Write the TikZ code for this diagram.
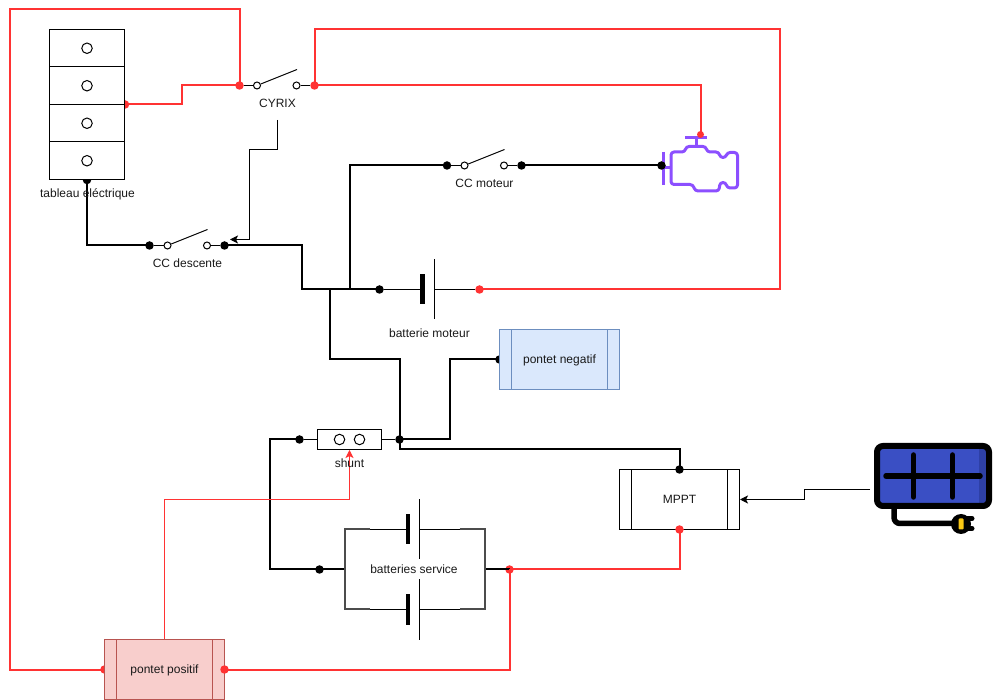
\documentclass[tikz,border=0pt]{standalone}
\usepackage{fontspec}
\setmainfont{Liberation Sans}
\usetikzlibrary{arrows.meta}
\definecolor{wirered}{HTML}{FF3333}
\definecolor{enginepurple}{HTML}{8C4FFF}
\definecolor{panelblue}{HTML}{3A4FC4}
\definecolor{paneldark}{HTML}{2E40A6}
\definecolor{negfill}{HTML}{DAE8FC}
\definecolor{negline}{HTML}{6C8EBF}
\definecolor{posfill}{HTML}{F8CECC}
\definecolor{posline}{HTML}{B85450}
\tikzset{
	redwire/.style={draw=wirered,line width=2pt},
	blackwire/.style={draw=black,line width=2pt},
	thinwire/.style={draw=black,line width=1pt},
	thinarrow/.style={-{Stealth[length=8pt,width=8pt,inset=2pt]}},
	reddot/.style={circle,fill=wirered,inner sep=0pt,minimum size=8.5pt},
	blackdot/.style={circle,fill=black,inner sep=0pt,minimum size=8.5pt},
	opendot/.style={circle,draw=black,fill=white,line width=1pt,inner sep=0pt,minimum size=7pt},
	ring/.style={circle,draw=black,fill=white,line width=1pt,inner sep=0pt,minimum size=10.5pt},
	label/.style={font=\fontsize{12}{14}\selectfont,text=black!90,inner sep=0pt,text height=10pt,text depth=2pt},
	pontet/.style={draw=#1,line width=1pt,minimum width=120pt,minimum height=60pt,inner sep=0pt,
		font=\fontsize{12}{14}\selectfont,text=black!90,text height=10pt,text depth=2pt,
		path picture={
			\draw[#1,line width=1pt] ([xshift=12pt]path picture bounding box.north west) -- ([xshift=12pt]path picture bounding box.south west);
			\draw[#1,line width=1pt] ([xshift=-12pt]path picture bounding box.north east) -- ([xshift=-12pt]path picture bounding box.south east);
		}},
	cell/.style={draw=black,fill=white,line width=1pt,minimum width=75pt,minimum height=37.5pt,inner sep=0pt},
	plateone/.style={line width=4.5pt},
	platetwo/.style={draw=black,line width=1pt},
	bracket/.style={draw=black!70,line width=2pt},
	enginepen/.style={draw=enginepurple,line width=3pt},
}
\begin{document}
\begin{tikzpicture}[x=1pt,y=-1pt]
	\useasboundingbox (0,0) rectangle (997,700);

	% engine
	\draw[enginepen,rounded corners=3pt,line join=round] (671,152) -- (685,152) -- (686,146.5) -- (706,146.5) -- (707,152) -- (719,152) -- (720,157.5) -- (726,157.5) -- (727,152.5) -- (737.5,152.5) -- (737.5,188) -- (727,188) -- (726,182.5) -- (720,182.5) -- (719,191) -- (695,191) -- (693,184.5) -- (671,184.5) -- cycle;
	\draw[enginepen] (696,146) -- (696,138);
	\draw[enginepen] (685,137.5) -- (707,137.5);
	\draw[enginepen] (663.5,152) -- (663.5,185);
	\draw[enginepen] (663.5,168) -- (671,168);

	% junctions
	\node[reddot] (tabred) at (125,104.5) {};
	\node[reddot] (cyrixa) at (239.5,85.5) {};
	\node[reddot] (cyrixb) at (314.5,85.5) {};
	\node[reddot,minimum size=7pt] (engred) at (700.5,134.5) {};
	\node[reddot] (batplus) at (479.5,289.5) {};
	\node[reddot] (servplus) at (509.5,569.5) {};
	\node[reddot] (posleft) at (104.5,669.5) {};
	\node[blackdot] (tabblack) at (87,180) {};
	\node[blackdot] (desca) at (149.5,245.5) {};
	\node[blackdot] (descb) at (224.5,245.5) {};
	\node[blackdot] (mota) at (447,165.5) {};
	\node[blackdot] (motb) at (521.5,165.5) {};
	\node[blackdot] (engblack) at (661.5,165.5) {};
	\node[blackdot] (batminus) at (379.5,289.5) {};
	\node[blackdot] (negdot) at (499.5,359.5) {};
	\node[blackdot] (shunta) at (299.5,439.5) {};
	\node[blackdot] (shuntb) at (399.5,439.5) {};
	\node[blackdot] (servminus) at (319.5,569.5) {};
	\coordinate (servleft) at (344.5,569.5);
	\coordinate (servright) at (484.5,569.5);

	% red wires
	\draw[redwire] (tabred.center) -- ++(57,0) |- (cyrixa.center);
	\draw[redwire] (cyrixa.center) -- ++(0,-76) -- ++(-230,0) |- (posleft.center);
	\draw[redwire] (cyrixb.center) -- ++(0,-56) -- ++(465,0) |- (batplus.center);
	\draw[redwire] (cyrixb.center) -| (engred.center);

	% black wires
	\draw[blackwire] (tabblack.center) |- (desca.center);
	\draw[blackwire] (descb.center) -- ++(77.5,0) |- (batminus.center);
	\draw[blackwire] (batminus.center) -- ++(-30,0) |- (mota.center);
	\draw[blackwire] (motb.center) -- (engblack.center);
	\draw[blackwire] (shuntb.center) -- ++(50,0) |- (negdot.center);
	\draw[blackwire] (shunta.center) -- ++(-30,0) |- (servminus.center);
	\draw[blackwire] (servminus.center) -- (servleft);
	\draw[blackwire] (servright) -- (servplus.center);

	% switches
	\node[opendot] (cyrixl) at (257,85.5) {};
	\node[opendot] (cyrixr) at (296.5,85.5) {};
	\draw[thinwire] (cyrixa) -- (cyrixl);
	\draw[thinwire] (cyrixr) -- (cyrixb);
	\draw[thinwire] (cyrixl) -- ++(40,-16);
	\node[opendot] (motl) at (464.5,165.5) {};
	\node[opendot] (motr) at (504,165.5) {};
	\draw[thinwire] (mota) -- (motl);
	\draw[thinwire] (motr) -- (motb);
	\draw[thinwire] (motl) -- ++(40,-16);
	\node[opendot] (descl) at (167.5,245.5) {};
	\node[opendot] (descr) at (207,245.5) {};
	\draw[thinwire] (desca) -- (descl);
	\draw[thinwire] (descr) -- (descb);
	\draw[thinwire] (descl) -- ++(40,-16);

	% tableau
	\foreach \i/\ypos in {1/48.25,2/85.75,3/123.25,4/160.75}{
		\node[cell] (cell\i) at (87,\ypos) {};
		\node[ring] (ring\i) at (87,\ypos) {};
	}

	% batteries
	\coordinate (motplate) at (422.5,289.5);
	\coordinate (motthin) at (434.5,289.5);
	\draw[thinwire] (batminus) -- (motplate);
	\draw[thinwire] (motthin) -- (batplus);
	\draw[plateone] (motplate) ++(0,-15) -- ++(0,30);
	\draw[platetwo] (motthin) ++(0,-30) -- ++(0,60);
	\foreach \nm/\ypos in {top/529.5,bot/609.5}{
		\coordinate (\nm plate) at (408,\ypos);
		\coordinate (\nm thin) at (419,\ypos);
		\coordinate (\nm a) at (370,\ypos);
		\coordinate (\nm b) at (459.5,\ypos);
		\draw[thinwire] (\nm a) -- (\nm plate);
		\draw[thinwire] (\nm thin) -- (\nm b);
		\draw[plateone] (\nm plate) ++(0,-15) -- ++(0,30);
		\draw[platetwo] (\nm thin) ++(0,-30) -- ++(0,60);
	}
	\draw[bracket] (topa) -| (servleft) |- (bota);
	\draw[bracket] (topb) -| (servright) |- (botb);

	% shunt
	\node[draw=black,fill=white,line width=1pt,minimum width=64pt,minimum height=20pt,inner sep=0pt] (shuntbox) at (349.5,439.5) {};
	\node[ring] (shuntl) at (339.5,439.5) {};
	\node[ring] (shuntr) at (359.5,439.5) {};
	\draw[thinwire] (shunta) -- (shuntbox);
	\draw[thinwire] (shuntbox) -- (shuntb);

	% boxes
	\node[pontet=negline,fill=negfill] (negatif) at (559.5,359.5) {pontet negatif};
	\node[pontet=posline,fill=posfill] (positif) at (164.5,669.5) {pontet positif};
	\node[pontet=black,fill=white] (mppt) at (679.5,499.5) {MPPT};

	% junctions on top of the boxes
	\node[reddot] (mpptplus) at (679.5,529.5) {};
	\node[reddot] (posright) at (224.5,669.5) {};
	\node[blackdot] (mpptminus) at (679.5,469.5) {};
	\draw[redwire] (posright.center) -| (servplus.center);
	\draw[redwire] (servplus.center) -| (mpptplus.center);
	\draw[blackwire] (batminus.center) -- ++(-50,0) |- (399.5,359.5) -- (shuntb.center) -- ++(0,10) -| (mpptminus.center);

	% thin links
	\draw[draw=wirered,line width=1pt,thinarrow] (positif.north) |- (349.5,499.5) -- (shuntbox.south);
	\draw[thinwire,thinarrow] (277.5,120) coordinate (cyrixlink) -- ++(0,29.5) -| (249.5,239.5) -- (230,239.5) coordinate (desclink);
	\coordinate (solarlink) at (870,489.5);
	\draw[thinwire,thinarrow] (solarlink) -- ++(-65.5,0) |- (mppt.east);

	% texts
	\node[label] (tabtext) at (87.5,194) {tableau eléctrique};
	\node[label] (cyrixtext) at (277.5,104) {CYRIX};
	\node[label] (mottext) at (484.5,184) {CC moteur};
	\node[label] (desctext) at (187.5,264) {CC descente};
	\node[label] (battext) at (429.5,334) {batterie moteur};
	\node[label] (shunttext) at (349.5,464) {shunt};
	\node[label] (servtext) at (414,570) {batteries service};

	% solar panel
	\fill[panelblue,rounded corners=5pt] (877,446) rectangle (989,506);
	\fill[paneldark] (979,449) rectangle (986,503);
	\draw[line width=6pt,rounded corners=6pt] (877,446) rectangle (989,506);
	\draw[line width=5.5pt,line cap=round] (913.5,455) -- (913.5,497);
	\draw[line width=5.5pt,line cap=round] (952.5,455) -- (952.5,497);
	\draw[line width=5.5pt,line cap=round] (886,476) -- (980,476);
	\draw[line width=5.5pt,rounded corners=6pt] (894,508) -- (894,523.5) -- (956,523.5);
	\draw[line width=5pt,line cap=round] (964,518.5) -- (972,518.5);
	\draw[line width=5pt,line cap=round] (964,528.5) -- (972,528.5);
	\node[circle,fill=black,inner sep=0pt,minimum size=20pt] (plug) at (961,524) {};
	\node[fill={rgb,255:red,250;green,200;blue,20},rounded corners=1pt,inner sep=0pt,minimum width=5pt,minimum height=11pt] (plugcore) at (961,524) {};
\end{tikzpicture}
\end{document}
